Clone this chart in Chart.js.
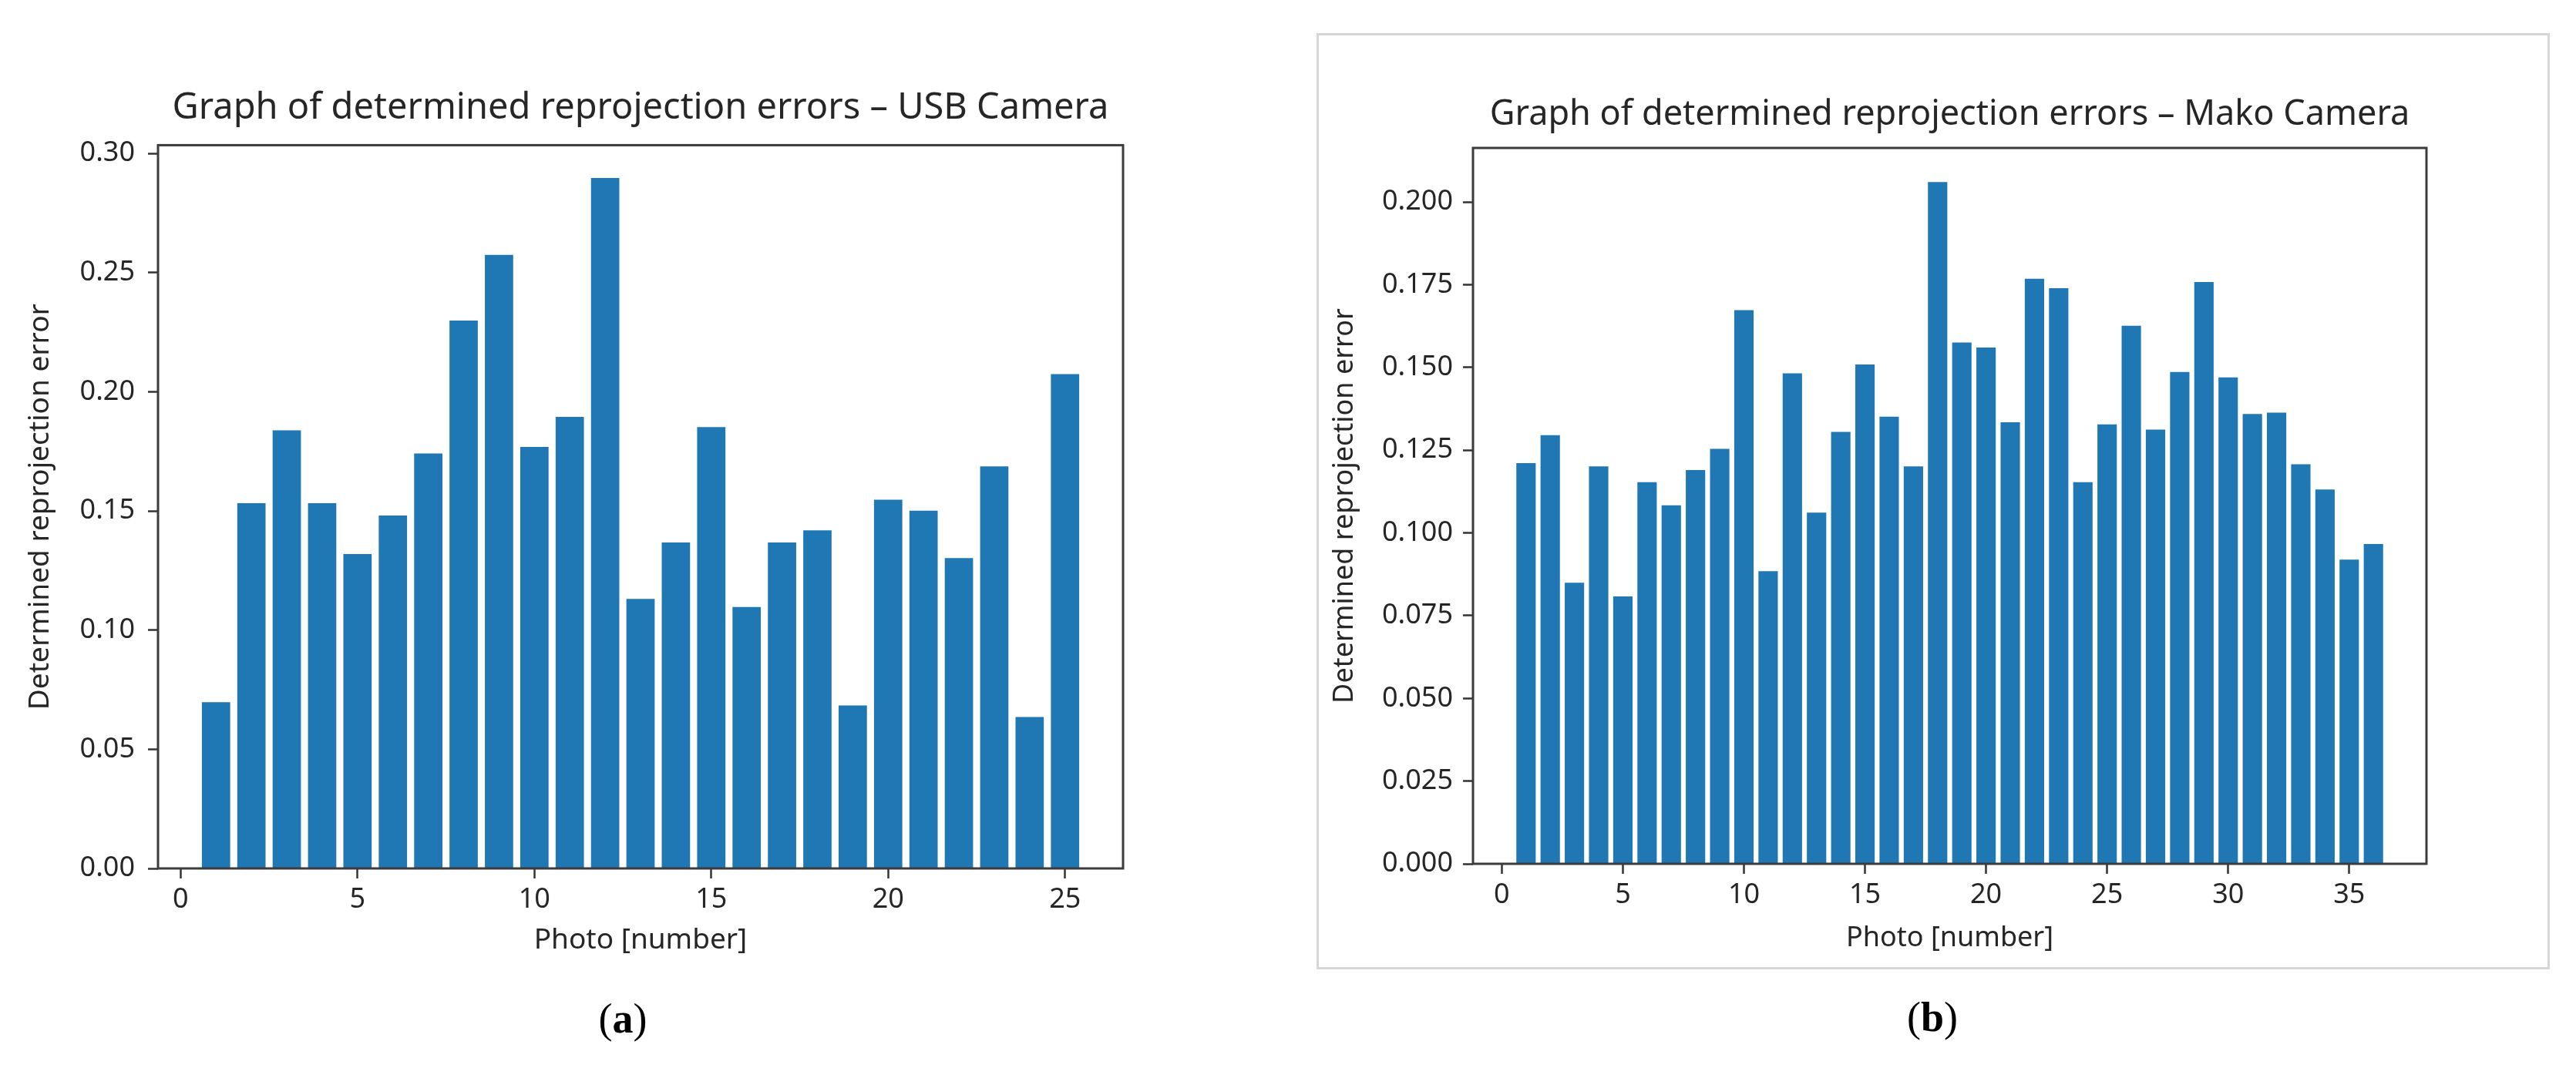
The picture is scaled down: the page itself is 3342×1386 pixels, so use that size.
<!DOCTYPE html>
<html>
<head>
<meta charset="utf-8">
<script src="https://cdn.jsdelivr.net/npm/chart.js@4.4.0/dist/chart.umd.min.js"></script>
<style>
  body { margin: 0; background: #fff; width: 3342px; height: 1386px; position: relative; overflow: hidden; }
  canvas { position: absolute; }
  #usbCanvas { left: 0; top: 0; }
  #makoCanvas { left: 1700px; top: 0; }
  #box { position: absolute; left: 1708px; top: 43px; width: 1594px; height: 1209px; border: 3px solid #d6d6d6; }
  .cap { position: absolute; font-family: "Liberation Serif", serif; font-size: 54px; color: #000; transform: translate(-50%, -50%); }
</style>
</head>
<body>
<div id="box"></div>
<canvas id="usbCanvas" width="1500" height="1260"></canvas>
<canvas id="makoCanvas" width="1490" height="1250"></canvas>
<div class="cap" style="left:808px; top:1322px;">(<b>a</b>)</div>
<div class="cap" style="left:2507px; top:1320px;">(<b>b</b>)</div>

<script>
// (a) USB camera
var usbPhotos = [1, 2, 3, 4, 5, 6, 7, 8, 9, 10, 11, 12, 13, 14, 15, 16, 17, 18, 19, 20, 21, 22, 23, 24, 25];
var usbErrors = [0.0698, 0.1533, 0.1838, 0.1533, 0.1319, 0.1481, 0.1741, 0.2299, 0.2575, 0.1769,
                 0.1895, 0.2897, 0.1131, 0.1368, 0.1852, 0.1097, 0.1368, 0.1419, 0.0684, 0.1547,
                 0.1501, 0.1302, 0.1687, 0.0635, 0.2074];
var usbXTicks = [0, 5, 10, 15, 20, 25];
var usbYTicks = [0.00, 0.05, 0.10, 0.15, 0.20, 0.25, 0.30];

// (b) Mako camera
var makoPhotos = [1, 2, 3, 4, 5, 6, 7, 8, 9, 10, 11, 12, 13, 14, 15, 16, 17, 18,
                  19, 20, 21, 22, 23, 24, 25, 26, 27, 28, 29, 30, 31, 32, 33, 34, 35, 36];
var makoErrors = [0.1211, 0.1295, 0.0849, 0.1201, 0.0808, 0.1153, 0.1083, 0.1190, 0.1254, 0.1673,
                  0.0884, 0.1482, 0.1061, 0.1305, 0.1509, 0.1351, 0.1201, 0.2060, 0.1575, 0.1560,
                  0.1334, 0.1768, 0.1739, 0.1153, 0.1328, 0.1626, 0.1312, 0.1486, 0.1758, 0.1470,
                  0.1359, 0.1363, 0.1207, 0.1131, 0.0919, 0.0966];
var makoXTicks = [0, 5, 10, 15, 20, 25, 30, 35];
var makoYTicks = [0.000, 0.025, 0.050, 0.075, 0.100, 0.125, 0.150, 0.175, 0.200];

var textColor = '#262626';

// matplotlib style box around the plot area
var framePlugin = {
    id: 'frame',
    afterDatasetsDraw: function(chart) {
        var a = chart.chartArea;
        var ctx = chart.ctx;
        ctx.save();
        ctx.strokeStyle = '#3c3c3c';
        ctx.lineWidth = 3;
        ctx.strokeRect(a.left, a.top, a.right - a.left, a.bottom - a.top);
        ctx.restore();
    }
};

function barChart(canvasId, photos, errors, cfg) {
    var points = [];
    for (var i in photos) {
        points.push({x: photos[i], y: errors[i]});
    }

    return new Chart(document.getElementById(canvasId), {
        type: 'bar',
        data: {
            datasets: [{
                data: points,
                backgroundColor: '#1f77b4',
                borderWidth: 0,
                barPercentage: 0.8,
                categoryPercentage: 1.0
            }]
        },
        options: {
            responsive: false,
            animation: false,
            devicePixelRatio: 1,
            layout: { padding: cfg.padding },
            plugins: {
                legend: { display: false },
                tooltip: { enabled: false },
                title: {
                    display: true,
                    fullSize: false,   // centre over the plot area, not the canvas
                    text: cfg.title,
                    color: textColor,
                    font: { family: 'Noto Sans', size: cfg.titleSize, weight: 'normal' },
                    padding: cfg.titlePadding
                }
            },
            scales: {
                x: {
                    type: 'linear',
                    min: cfg.xMin,
                    max: cfg.xMax,
                    offset: false,
                    grid: { drawOnChartArea: false, drawTicks: true, tickLength: 13, tickWidth: 2.5, tickColor: '#333', offset: false },
                    border: { display: false },
                    afterBuildTicks: function(s) { s.ticks = cfg.xTicks.map(function(v) { return {value: v}; }); },
                    afterFit: function(s) { s.height = cfg.xAxisHeight; },
                    ticks: {
                        autoSkip: false,
                        maxRotation: 0,
                        padding: 6,
                        color: textColor,
                        font: { family: 'Noto Sans', size: 36 },
                        callback: function(v) { return String(v); }
                    },
                    title: {
                        display: true,
                        text: 'Photo [number]',
                        color: textColor,
                        font: { family: 'Noto Sans', size: cfg.labelSize },
                        padding: { top: 0, bottom: cfg.xTitlePad }
                    }
                },
                y: {
                    min: 0,
                    max: cfg.yMax,
                    grid: { drawOnChartArea: false, drawTicks: true, tickLength: 13, tickWidth: 2.5, tickColor: '#333' },
                    border: { display: false },
                    afterBuildTicks: function(s) { s.ticks = cfg.yTicks.map(function(v) { return {value: v}; }); },
                    afterFit: function(s) { s.width = cfg.yAxisWidth; },
                    ticks: {
                        autoSkip: false,
                        padding: cfg.yTickPad,
                        color: textColor,
                        font: { family: 'Noto Sans', size: 36 },
                        callback: function(v) { return v.toFixed(cfg.decimals); }
                    },
                    title: {
                        display: true,
                        text: 'Determined reprojection error',
                        color: textColor,
                        font: { family: 'Noto Sans', size: cfg.labelSize },
                        padding: { top: cfg.yTitlePad, bottom: 0 }
                    }
                }
            }
        },
        plugins: [framePlugin]
    });
}

barChart('usbCanvas', usbPhotos, usbErrors, {
    title: 'Graph of determined reprojection errors \u2013 USB Camera',
    titleSize: 47,
    titlePadding: { top: 112, bottom: 20 },
    padding: { left: 0, right: 43, top: 0, bottom: 0 },
    xMin: -0.64, xMax: 26.64, yMax: 0.3035,
    xTicks: usbXTicks, yTicks: usbYTicks,
    xAxisHeight: 133, yAxisWidth: 205,
    xTitlePad: 17, yTitlePad: 30, yTickPad: 17,
    labelSize: 37, decimals: 2
});

barChart('makoCanvas', makoPhotos, makoErrors, {
    title: 'Graph of determined reprojection errors \u2013 Mako Camera',
    titleSize: 45,
    titlePadding: { top: 122, bottom: 16 },
    padding: { left: 0, right: 42, top: 0, bottom: 0 },
    xMin: -1.19, xMax: 38.19, yMax: 0.2163,
    xTicks: makoXTicks, yTicks: makoYTicks,
    xAxisHeight: 129, yAxisWidth: 211,
    xTitlePad: 11, yTitlePad: 23, yTickPad: 13,
    labelSize: 36, decimals: 3
});
</script>
</body>
</html>
